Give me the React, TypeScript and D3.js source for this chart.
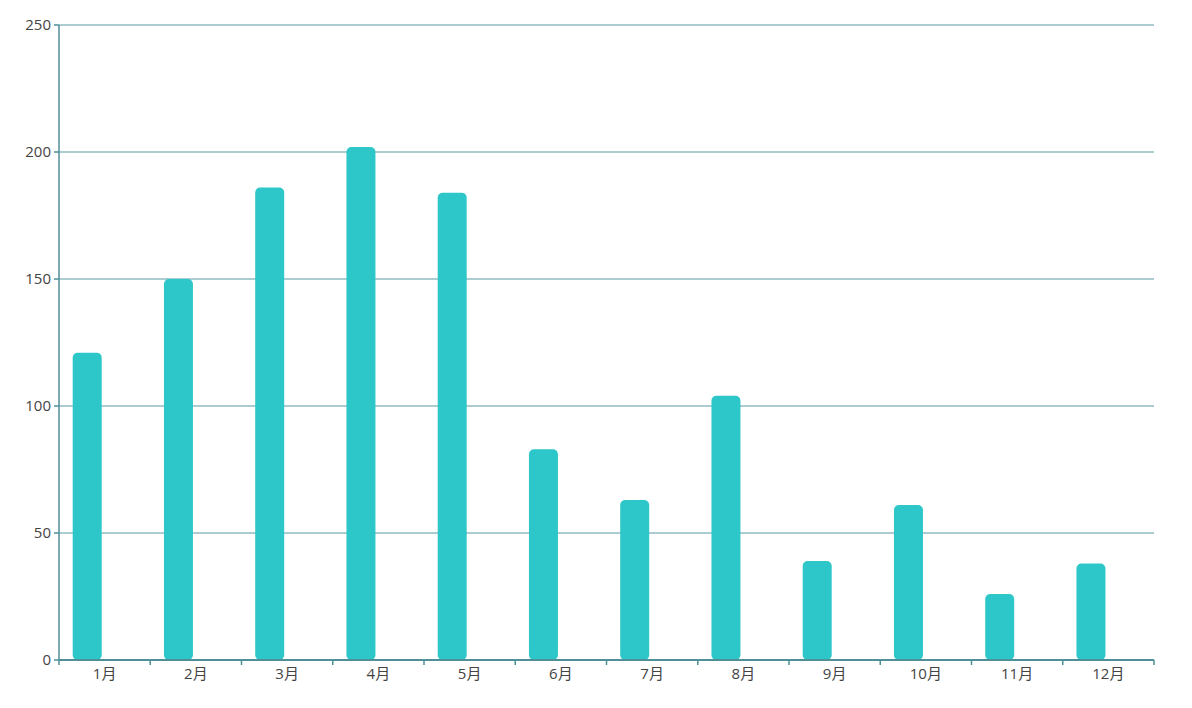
import { useEffect, useRef } from "react";
import * as d3 from "d3";

const months = ["1月", "2月", "3月", "4月", "5月", "6月", "7月", "8月", "9月", "10月", "11月", "12月"];
const values = [121, 150, 186, 202, 184, 83, 63, 104, 39, 61, 26, 38];
const yTicks = [0, 50, 100, 150, 200, 250];

export default function App() {
  const svgRef = useRef<SVGSVGElement>(null);

  useEffect(() => {
    if (!svgRef.current) return;
    const width = 1192;
    const height = 708;
    const margin = { top: 25, right: 38, bottom: 48, left: 59 };

    const svg = d3.select(svgRef.current);
    svg.selectAll("*").remove();

    const x = d3
      .scaleBand<string>()
      .domain(months)
      .range([margin.left, width - margin.right]);

    const y = d3
      .scaleLinear()
      .domain([0, 250])
      .range([height - margin.bottom, margin.top]);

    const gridColor = "#8fbcc2";
    const axisColor = "#4f8f98";
    const labelColor = "#444";
    const font = "'Open Sans', 'Noto Sans CJK SC', sans-serif";

    // horizontal grid lines
    svg
      .append("g")
      .selectAll("line")
      .data(yTicks.filter(t => t > 0))
      .enter()
      .append("line")
      .attr("x1", margin.left)
      .attr("x2", width - margin.right)
      .attr("y1", d => y(d))
      .attr("y2", d => y(d))
      .attr("stroke", gridColor)
      .attr("stroke-width", 1.5);

    // bars, shifted left as the first slot of a two-slot group
    const barWidth = 29;
    const barOffset = 13.7;
    svg
      .append("g")
      .selectAll("rect")
      .data(months)
      .enter()
      .append("rect")
      .attr("x", (d) => (x(d) as number) + barOffset)
      .attr("y", (d, i) => y(values[i]))
      .attr("width", barWidth)
      .attr("height", (d, i) => y(0) - y(values[i]))
      .attr("rx", 5)
      .attr("ry", 5)
      .attr("fill", "#2ec7c9");

    // y axis
    const yAxis = svg.append("g");
    yAxis
      .append("line")
      .attr("x1", margin.left)
      .attr("x2", margin.left)
      .attr("y1", margin.top)
      .attr("y2", y(0))
      .attr("stroke", axisColor)
      .attr("stroke-width", 1.5);
    yAxis
      .selectAll("line.tick")
      .data(yTicks)
      .enter()
      .append("line")
      .attr("class", "tick")
      .attr("x1", margin.left - 5)
      .attr("x2", margin.left)
      .attr("y1", d => y(d))
      .attr("y2", d => y(d))
      .attr("stroke", axisColor)
      .attr("stroke-width", 1.5);
    yAxis
      .selectAll("text")
      .data(yTicks)
      .enter()
      .append("text")
      .attr("x", margin.left - 8)
      .attr("y", d => y(d))
      .attr("dy", "0.35em")
      .attr("text-anchor", "end")
      .attr("font-size", 15)
      .attr("font-family", font)
      .attr("fill", labelColor)
      .text(d => d);

    // x axis
    const xAxis = svg.append("g");
    xAxis
      .append("line")
      .attr("x1", margin.left)
      .attr("x2", width - margin.right)
      .attr("y1", y(0))
      .attr("y2", y(0))
      .attr("stroke", axisColor)
      .attr("stroke-width", 2);
    const boundaries = months.map(m => x(m) as number).concat([width - margin.right]);
    xAxis
      .selectAll("line.tick")
      .data(boundaries)
      .enter()
      .append("line")
      .attr("class", "tick")
      .attr("x1", d => d)
      .attr("x2", d => d)
      .attr("y1", y(0))
      .attr("y2", y(0) + 5)
      .attr("stroke", axisColor)
      .attr("stroke-width", 1.5);
    xAxis
      .selectAll("text")
      .data(months)
      .enter()
      .append("text")
      .attr("x", d => (x(d) as number) + x.bandwidth() / 2)
      .attr("y", y(0) + 19)
      .attr("text-anchor", "middle")
      .attr("font-size", 15)
      .attr("font-family", font)
      .attr("fill", labelColor)
      .text(d => d);
  }, []);

  return (
    <svg
      ref={svgRef}
      width={1192}
      height={708}
      style={{ position: "absolute", left: 0, top: 0, background: "#fff" }}
    ></svg>
  );
}
